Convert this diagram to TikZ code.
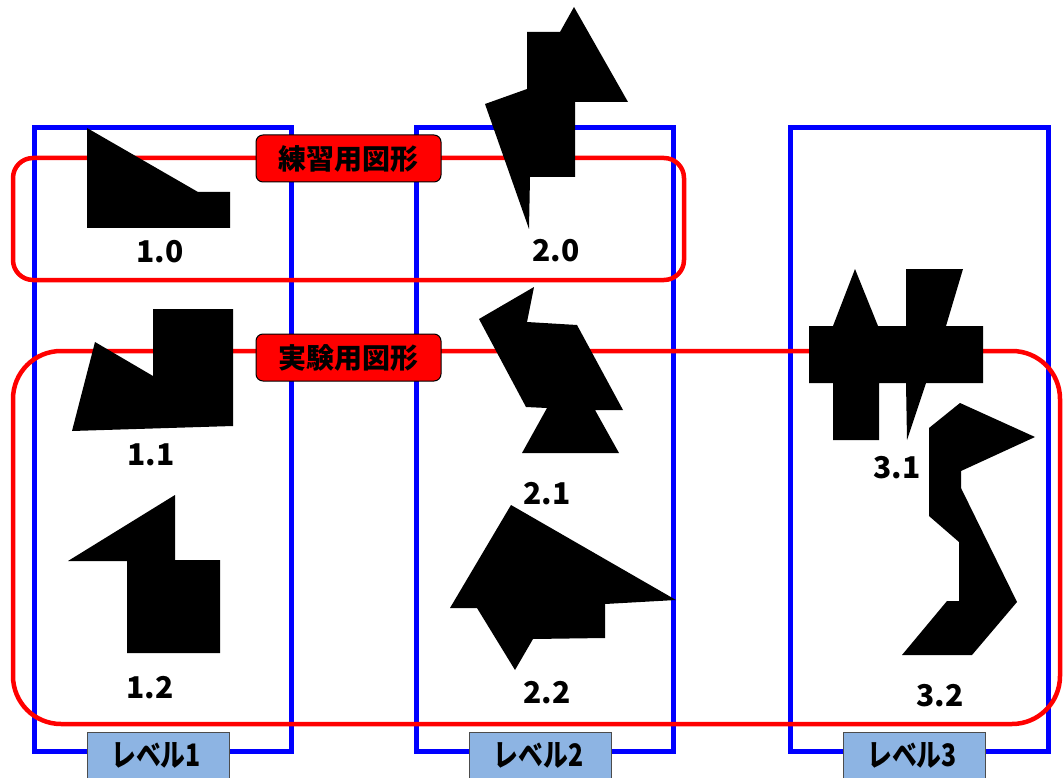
\documentclass[tikz,border=0pt]{standalone}
\usepackage{fontspec}
\newfontfamily\jpfont{Noto Sans CJK JP}
\definecolor{lvfill}{RGB}{141,180,227}
\definecolor{pureblue}{RGB}{0,0,255}
\definecolor{purered}{RGB}{255,0,0}
\tikzset{
  levelrect/.style={draw=pureblue, line width=5pt},
  grouprect/.style={draw=purered, line width=4.5pt},
  tag/.style={draw=black, line width=1pt, fill=purered, rounded corners=7pt, minimum width=185pt, minimum height=47pt, inner sep=0pt, font=\jpfont\bfseries\fontsize{28}{30}\selectfont},
  levtab/.style={draw=black!70, line width=0.8pt, fill=lvfill, minimum width=142pt, minimum height=60pt, inner sep=0pt, anchor=north},
  levtext/.style={font=\jpfont\bfseries\fontsize{31}{33}\selectfont, xscale=0.8, inner sep=0pt},
  num/.style={font=\jpfont\bfseries\fontsize{30}{32}\selectfont, inner sep=0pt},
  fig/.style={fill=black, draw=none}
}
\begin{document}
\begin{tikzpicture}[x=1pt, y=-1pt]
\useasboundingbox (0,0) rectangle (1063,778);
% level rectangles
\draw[levelrect] (34,128) rectangle (291,751);
\draw[levelrect] (416,128) rectangle (673,751);
\draw[levelrect] (790,128) rectangle (1048,751);
% group rounded rectangles
\draw[grouprect, rounded corners=20pt] (13,158) rectangle (684,280);
\draw[grouprect, rounded corners=48pt] (13,351) rectangle (1060,724);
% group tags
\node[tag] (tagA) at (348.5,158.5) {練習用図形};
\node[tag] (tagB) at (348.5,357.5) {実験用図形};
% level tabs
\node[levtab] (lv1) at (158,732) {};
\node[levtab] (lv2) at (540.5,732) {};
\node[levtab] (lv3) at (914,732) {};
\node[levtext] (lt1) at (156,755) {レベル1};
\node[levtext] (lt2) at (538.5,755) {レベル2};
\node[levtext] (lt3) at (912,755) {レベル3};
% figures
\fill[fig] (87,128) -- (198,192) -- (230,192) -- (230,228) -- (87,228) -- cycle;
\fill[fig] (95,342) -- (153,376) -- (153,309) -- (233,309) -- (233,426) -- (72,431) -- cycle;
\fill[fig] (68,561) -- (175,495) -- (175,560) -- (220,560) -- (220,653) -- (127,653) -- (127,561) -- cycle;
\fill[fig] (574,7) -- (628,102) -- (575,102) -- (575,177) -- (530,177) -- (529,229) -- (485,104) -- (527,89) -- (527,32) -- (560,32) -- cycle;
\fill[fig] (534,287) -- (527,322) -- (577,325) -- (623,410) -- (595,410) -- (619,453) -- (522,453) -- (547,408) -- (526,407) -- (479,319) -- cycle;
\fill[fig] (511,505) -- (676,600) -- (605,604) -- (605,638) -- (533,639) -- (515,670) -- (477,608) -- (450,608) -- cycle;
\fill[fig] (809,326) -- (833,326) -- (855,269) -- (878,326) -- (906,326) -- (906,269) -- (963,269) -- (946,326) -- (983,326) -- (983,383) -- (926,383) -- (907,440) -- (906,383) -- (879,383) -- (879,440) -- (833,440) -- (833,383) -- (809,383) -- cycle;
\fill[fig] (960,403) -- (1035,437) -- (961,471) -- (961,488) -- (1017,602) -- (972,655) -- (902,655) -- (947,601) -- (959,601) -- (959,542) -- (929,516) -- (929,428) -- cycle;
% figure numbers
\node[num] (n10) at (160,252) {1.0};
\node[num] (n11) at (151,455) {1.1};
\node[num] (n12) at (150,688) {1.2};
\node[num] (n20) at (556,251) {2.0};
\node[num] (n21) at (547,494) {2.1};
\node[num] (n22) at (547,693) {2.2};
\node[num] (n31) at (897,468) {3.1};
\node[num] (n32) at (940,696) {3.2};
\end{tikzpicture}
\end{document}
